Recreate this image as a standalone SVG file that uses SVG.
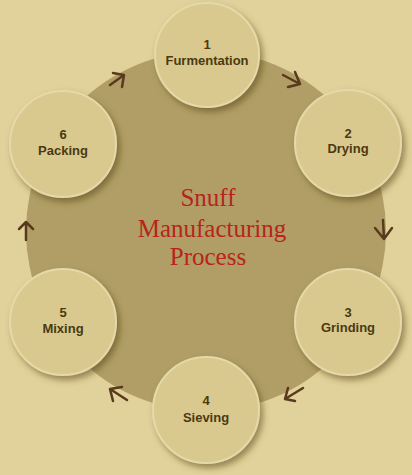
<svg xmlns="http://www.w3.org/2000/svg" width="412" height="475" viewBox="0 0 412 475">
<defs>
<filter id="sh" x="-30%" y="-30%" width="160%" height="160%">
<feDropShadow dx="3" dy="4" stdDeviation="3" flood-color="#5a4518" flood-opacity="0.55"/>
</filter>
<style>
.node circle{fill:#d9c98e;stroke:#e6d9a8;stroke-width:2;filter:url(#sh)}
.node text{font-family:"Liberation Sans",Arial,sans-serif;font-weight:bold;font-size:13px;fill:#4a3a10;text-anchor:middle}
.arr path{fill:none;stroke:#5a3a1e;stroke-width:2.5;stroke-linecap:round;stroke-linejoin:round}
.title{font-family:"Liberation Serif","Times New Roman",serif;font-size:25px;fill:#b8241c;text-anchor:middle}
</style>
</defs>
<rect width="412" height="475" fill="#e1d19b"/>
<circle cx="206" cy="231" r="180" fill="#b09e66"/>
<g class="title">
<text x="208" y="206">Snuff</text>
<text x="212" y="237">Manufacturing</text>
<text x="208" y="265">Process</text>
</g>
<g id="connectors" class="arr">
<path d="M110 85 L124 75 M113 73 L124 75 L122 87"/>
<path d="M283 75 L300 84 M295 72 L300 84 L288 87"/>
<path d="M383 220 L384 239 M375 228 L384 239 L392 228"/>
<path d="M303 388 L285 399 M288 388 L285 399 L295 401"/>
<path d="M127 400 L110 389 M122 387 L110 389 L113 401"/>
<path d="M26 240 L26 222 M19 229 L26 222 L33 229"/>
</g>
<g id="n1" class="node"><circle cx="207" cy="55" r="52"/><text x="207" y="49">1</text><text x="207" y="65">Furmentation</text></g>
<g id="n2" class="node"><circle cx="348" cy="143" r="53"/><text x="348" y="138">2</text><text x="348" y="153">Drying</text></g>
<g id="n3" class="node"><circle cx="348" cy="322" r="53"/><text x="348" y="317">3</text><text x="348" y="332">Grinding</text></g>
<g id="n4" class="node"><circle cx="206" cy="410" r="53"/><text x="206" y="405">4</text><text x="206" y="422">Sieving</text></g>
<g id="n5" class="node"><circle cx="63" cy="322" r="53"/><text x="63" y="317">5</text><text x="63" y="333">Mixing</text></g>
<g id="n6" class="node"><circle cx="63" cy="144" r="53"/><text x="63" y="139">6</text><text x="63" y="155">Packing</text></g>
</svg>
